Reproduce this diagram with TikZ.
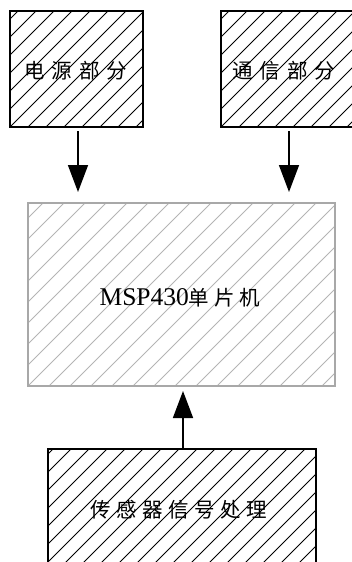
\documentclass[tikz,border=0pt]{standalone}
\usepackage{fontspec}
\setmainfont{Liberation Serif}
\newfontfamily\cjk{Noto Sans CJK SC}
\usetikzlibrary{arrows.meta}
\definecolor{hatchgray}{HTML}{B4B4B4}
\definecolor{bordergray}{HTML}{A8A8A8}
\tikzset{
  cjktext/.style={font=\cjk\fontsize{20.5}{20.5}\selectfont, inner sep=0pt},
  arrowline/.style={line width=1.5pt, -{Triangle[width=20pt,length=27pt]}},
  blackbox/.style={draw=black, line width=2.4pt, inner sep=0pt},
}
\begin{document}
\begin{tikzpicture}[x=1pt,y=-1pt]
\useasboundingbox (0,0) rectangle (351,562);
% hatching (lines from lower-left to upper-right)
\begin{scope}
  \clip (10,11) rectangle (143,127);
  \foreach \k in {-20,...,20}{\draw[black, line width=0.9pt] ({10+\k*18},127) -- ++(200,-200);}
\end{scope}
\begin{scope}
  \clip (221,11) rectangle (354,127);
  \foreach \k in {-20,...,20}{\draw[black, line width=0.9pt] ({221+\k*18},127) -- ++(200,-200);}
\end{scope}
\begin{scope}
  \clip (28,203) rectangle (335,386);
  \foreach \k in {-20,...,30}{\draw[hatchgray, line width=1pt] ({28+\k*21},386) -- ++(300,-300);}
\end{scope}
\begin{scope}
  \clip (48,449) rectangle (316,580);
  \foreach \k in {-20,...,30}{\draw[black, line width=0.9pt] ({48+\k*18},580) -- ++(300,-300);}
\end{scope}
% boxes
\node[blackbox, minimum width=133pt, minimum height=116pt] (power) at (76.5,69) {};
\node[blackbox, minimum width=133pt, minimum height=116pt] (comm) at (287.5,69) {};
\node[draw=bordergray, line width=2pt, minimum width=307pt, minimum height=183pt, inner sep=0pt] (mcu) at (181.5,294.5) {};
\node[blackbox, minimum width=268pt, minimum height=131pt] (sensor) at (182,514.5) {};
% texts
\node[cjktext] (t1) at (76,71) {电\hspace{7pt}源\hspace{7pt}部\hspace{7pt}分};
\node[cjktext] (t2) at (284,71) {通\hspace{7pt}信\hspace{7pt}部\hspace{7pt}分};
\node[inner sep=0pt, anchor=base] (t3) at (180,305) {\fontsize{25.5}{25.5}\selectfont MSP430{\cjk\fontsize{20.5}{20.5}\selectfont 单\hspace{5pt}片\hspace{5pt}机}};
\node[cjktext] (t4) at (179,510) {传\hspace{5.5pt}感\hspace{5.5pt}器\hspace{5.5pt}信\hspace{5.5pt}号\hspace{5.5pt}处\hspace{5.5pt}理};
% arrows
\coordinate (a1s) at (78,130);
\coordinate (a1e) at (78,192);
\coordinate (a2s) at (289,130);
\coordinate (a2e) at (289,192);
\coordinate (a3e) at (183,391);
\draw[arrowline] (power.south -| a1s) ++(0,3) -- (a1e);
\draw[arrowline] (comm.south -| a2s) ++(0,3) -- (a2e);
\draw[arrowline] (sensor.north -| a3e) -- (a3e);
\end{tikzpicture}
\end{document}
